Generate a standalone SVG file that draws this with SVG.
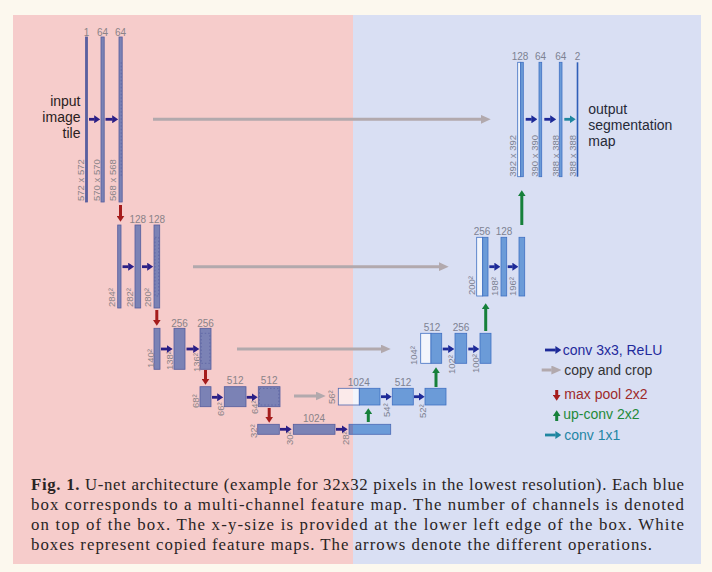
<svg xmlns="http://www.w3.org/2000/svg" width="712" height="572" viewBox="0 0 712 572">
<defs>
<style>
.bl{fill:#7b82b5;stroke:#565d9d;stroke-width:0.8}
.br{fill:#6b9bd8;stroke:#3f70c2;stroke-width:0.8}
.wl{fill:#fbeaea;stroke:#565d9d;stroke-width:0.8}
.wr{fill:#f2f5fc;stroke:#3f70c2;stroke-width:0.8}
.crop{fill:none;stroke:#4a5198;stroke-width:0.5;stroke-dasharray:1.5 2}
.ch{font-family:"Liberation Sans",Arial,sans-serif;font-size:10px;fill:#8a8388;text-anchor:middle}
.chr{fill:#7d8292}
.sz{font-family:"Liberation Sans",Arial,sans-serif;font-size:9.5px;fill:#8a8388}
.szr{fill:#7d8292}
.lbl{font-family:"Liberation Sans",Arial,sans-serif;font-size:14px}
.cap{font-family:"Liberation Serif","Times New Roman",serif;font-size:16.8px;fill:#2a2424}
.convl{stroke:#2b1f86;stroke-width:2.8;fill:none;marker-end:url(#mconvl)}
.convr{stroke:#1d2a98;stroke-width:2.8;fill:none;marker-end:url(#mconvr)}
.c11{stroke:#1f86a0;stroke-width:2.8;fill:none;marker-end:url(#mc11)}
.copy{stroke:#b2a9ad;stroke-width:3;fill:none;marker-end:url(#mcopy)}
.pool{stroke:#a51c1c;stroke-width:3;fill:none;marker-end:url(#mpool)}
.up{stroke:#16803a;stroke-width:3;fill:none;marker-end:url(#mup)}
</style>
<marker id="mconvl" markerUnits="userSpaceOnUse" markerWidth="6" markerHeight="8" viewBox="0 0 6 8" refX="0.3" refY="4" orient="auto"><path d="M0,0L6,4L0,8z" fill="#2b1f86"/></marker>
<marker id="mconvr" markerUnits="userSpaceOnUse" markerWidth="6" markerHeight="8" viewBox="0 0 6 8" refX="0.3" refY="4" orient="auto"><path d="M0,0L6,4L0,8z" fill="#1d2a98"/></marker>
<marker id="mc11" markerUnits="userSpaceOnUse" markerWidth="6" markerHeight="8" viewBox="0 0 6 8" refX="0.3" refY="4" orient="auto"><path d="M0,0L6,4L0,8z" fill="#1f86a0"/></marker>
<marker id="mcopy" markerUnits="userSpaceOnUse" markerWidth="10" markerHeight="9" viewBox="0 0 10 9" refX="0.3" refY="4.5" orient="auto"><path d="M0,0L10,4.5L0,9z" fill="#b2a9ad"/></marker>
<marker id="mpool" markerUnits="userSpaceOnUse" markerWidth="6" markerHeight="8" viewBox="0 0 6 8" refX="0.3" refY="4" orient="auto"><path d="M0,0L6,4L0,8z" fill="#a51c1c"/></marker>
<marker id="mup" markerUnits="userSpaceOnUse" markerWidth="6" markerHeight="8" viewBox="0 0 6 8" refX="0.3" refY="4" orient="auto"><path d="M0,0L6,4L0,8z" fill="#16803a"/></marker>
</defs>

<rect x="0" y="0" width="712" height="572" fill="#fcf8ee"/>
<rect x="13" y="15" width="340" height="549" fill="#f6cccb"/>
<rect x="353" y="15" width="348" height="549" fill="#d9dff3"/>

<g id="input-label" class="lbl" fill="#2a2020" text-anchor="end">
<text x="80.5" y="106">input</text>
<text x="80.5" y="122">image</text>
<text x="80.5" y="138">tile</text>
</g>
<g id="output-label" class="lbl" fill="#262a38">
<text x="588.3" y="114">output</text>
<text x="588.3" y="130">segmentation</text>
<text x="588.3" y="146">map</text>
</g>

<!-- Level 1 encoder -->
<g id="e1a"><rect class="bl" x="85.5" y="37" width="2" height="165" style="fill:#5a60a0"/><text class="ch" x="86.5" y="36">1</text><text class="sz" transform="translate(83.5,201) rotate(-90)">572 x 572</text></g>
<g id="e1b"><rect class="bl" x="101" y="37" width="3.2" height="165"/><text class="ch" x="102.6" y="36">64</text><text class="sz" transform="translate(100,201) rotate(-90)">570 x 570</text></g>
<g id="e1c"><rect class="bl" x="119" y="37" width="3.2" height="165"/><path class="crop" d="M121.2,62.3V176.7"/><text class="ch" x="120.6" y="36">64</text><text class="sz" transform="translate(116,201) rotate(-90)">568 x 568</text></g>

<!-- Level 2 encoder -->
<g id="e2a"><rect class="bl" x="117.7" y="225" width="3.3" height="83"/><text class="sz" transform="translate(115,307) rotate(-90)">284²</text></g>
<g id="e2b"><rect class="bl" x="135" y="225" width="5.7" height="83"/><text class="ch" x="137.8" y="222.5">128</text><text class="sz" transform="translate(132.5,307) rotate(-90)">282²</text></g>
<g id="e2c"><rect class="bl" x="154" y="225" width="5.7" height="83"/><rect class="crop" x="155" y="237.3" width="3.7" height="58.7"/><text class="ch" x="156.8" y="222.5">128</text><text class="sz" transform="translate(151,307) rotate(-90)">280²</text></g>

<!-- Level 3 encoder -->
<g id="e3a"><rect class="bl" x="154" y="328.3" width="6" height="41"/><text class="sz" transform="translate(154,368) rotate(-90)">140²</text></g>
<g id="e3b"><rect class="bl" x="174" y="328.3" width="11" height="41"/><text class="ch" x="179.5" y="326.5">256</text><text class="sz" transform="translate(172.7,370) rotate(-90)">138²</text></g>
<g id="e3c"><rect class="bl" x="200" y="328.3" width="11" height="41"/><rect class="crop" x="201.2" y="333.3" width="8.6" height="30"/><text class="ch" x="205.5" y="326.5">256</text><text class="sz" transform="translate(199.5,372) rotate(-90)">136²</text></g>

<!-- Level 4 encoder -->
<g id="e4a"><rect class="bl" x="200" y="386.7" width="11" height="20"/><text class="sz" transform="translate(198.5,408) rotate(-90)">68²</text></g>
<g id="e4b"><rect class="bl" x="224.3" y="386.7" width="21.7" height="20"/><text class="ch" x="235.2" y="384">512</text><text class="sz" transform="translate(223.5,416) rotate(-90)">66²</text></g>
<g id="e4c"><rect class="bl" x="258.3" y="386.7" width="21.7" height="20"/><rect class="crop" x="259.5" y="388.4" width="19.3" height="16.6"/><text class="ch" x="269.2" y="384">512</text><text class="sz" transform="translate(257.5,414) rotate(-90)">64²</text></g>

<!-- Level 5 bottleneck -->
<g id="b5a"><rect class="bl" x="257.7" y="424.3" width="21.6" height="10"/><text class="sz" transform="translate(256.5,438) rotate(-90)">32²</text></g>
<g id="b5b"><rect class="bl" x="293.3" y="424.3" width="41.7" height="10"/><text class="ch" x="314" y="421.8">1024</text><text class="sz" transform="translate(292.5,445) rotate(-90)">30²</text></g>
<g id="b5c"><rect x="349" y="424.3" width="4" height="10" fill="#7b82b5"/><rect x="353" y="424.3" width="37.7" height="10" fill="#6b9bd8"/><rect x="349" y="424.3" width="41.7" height="10" fill="none" stroke="#4a6ab4" stroke-width="0.8"/><text class="sz" transform="translate(349.3,445) rotate(-90)">28²</text></g>

<!-- Level 4 decoder -->
<g id="d4a"><rect x="338.3" y="388.3" width="14.7" height="16.7" fill="#fbeaea"/><rect x="353" y="388.3" width="6.3" height="16.7" fill="#f2f5fc"/><rect x="338.3" y="388.3" width="21" height="16.7" fill="none" stroke="#4f68b0" stroke-width="0.8"/><rect class="br" x="359.3" y="388.3" width="20.7" height="16.7"/><text class="ch chr" x="358.8" y="386">1024</text><text class="sz" transform="translate(335,404) rotate(-90)">56²</text></g>
<g id="d4b"><rect class="br" x="392.3" y="388.3" width="21" height="16.7"/><text class="ch chr" x="403" y="386">512</text><text class="sz szr" transform="translate(390,417) rotate(-90)">54²</text></g>
<g id="d4c"><rect class="br" x="425" y="388.3" width="21" height="16.7"/><text class="sz szr" transform="translate(426,418) rotate(-90)">52²</text></g>

<!-- Level 3 decoder -->
<g id="d3a"><rect class="wr" x="420.7" y="333.3" width="10.3" height="30"/><rect class="br" x="431" y="333.3" width="10.7" height="30"/><text class="ch chr" x="432" y="330.7">512</text><text class="sz szr" transform="translate(416.7,365) rotate(-90)">104²</text></g>
<g id="d3b"><rect class="br" x="455" y="333.3" width="11.7" height="30"/><text class="ch chr" x="461" y="330.7">256</text><text class="sz szr" transform="translate(455,374) rotate(-90)">102²</text></g>
<g id="d3c"><rect class="br" x="480" y="333.3" width="11" height="30"/><text class="sz szr" transform="translate(478.5,373) rotate(-90)">100²</text></g>

<!-- Level 2 decoder -->
<g id="d2a"><rect class="wr" x="476.7" y="237.3" width="6" height="58.7"/><rect class="br" x="482.7" y="237.3" width="5.3" height="58.7"/><text class="ch chr" x="482" y="235">256</text><text class="sz szr" transform="translate(474.5,295) rotate(-90)">200²</text></g>
<g id="d2b"><rect class="br" x="501" y="237.3" width="5.7" height="58.7"/><text class="ch chr" x="504" y="235">128</text><text class="sz szr" transform="translate(497.7,296) rotate(-90)">198²</text></g>
<g id="d2c"><rect class="br" x="519" y="237.3" width="5.7" height="58.7"/><text class="sz szr" transform="translate(516,296) rotate(-90)">196²</text></g>

<!-- Level 1 decoder -->
<g id="d1a"><rect class="wr" x="517.7" y="62.3" width="3" height="114.4"/><rect class="br" x="520.7" y="62.3" width="2.6" height="114.4"/><text class="ch chr" x="520" y="60">128</text><text class="sz szr" transform="translate(516,176.7) rotate(-90)">392 x 392</text></g>
<g id="d1b"><rect class="br" x="539" y="62.3" width="2.7" height="114.4"/><text class="ch chr" x="540.5" y="60">64</text><text class="sz szr" transform="translate(538,176.7) rotate(-90)">390 x 390</text></g>
<g id="d1c"><rect class="br" x="559.3" y="62.3" width="2.7" height="114.4"/><text class="ch chr" x="560.7" y="60">64</text><text class="sz szr" transform="translate(558.7,176.7) rotate(-90)">388 x 388</text></g>
<g id="d1d"><rect x="576.7" y="62.3" width="1.6" height="114.4" fill="#2f5fb8"/><text class="ch chr" x="577.5" y="60">2</text><text class="sz szr" transform="translate(576,176.7) rotate(-90)">388 x 388</text></g>

<g id="connectors">
<path class="convl" d="M89,119.3H94.5"/>
<path class="convl" d="M105.5,119.3H112.5"/>
<path class="convl" d="M122.5,266.7H128.5"/>
<path class="convl" d="M142,266.7H147.5"/>
<path class="convl" d="M161,349H167"/>
<path class="convl" d="M186.5,349H193.5"/>
<path class="convl" d="M212,397.3H217.5"/>
<path class="convl" d="M246.7,397.3H252"/>
<path class="convl" d="M280,429.3H286"/>
<path class="convl" d="M336,429.3H342"/>
<path class="convr" d="M381,396.7H386"/>
<path class="convr" d="M414,396.7H419"/>
<path class="convr" d="M442.7,349H448.5"/>
<path class="convr" d="M468.3,349H473.5"/>
<path class="convr" d="M489.3,266.7H494.7"/>
<path class="convr" d="M507.7,266.7H512.7"/>
<path class="convr" d="M525.7,119.3H531.7"/>
<path class="convr" d="M544.3,119.3H550.5"/>
<path class="c11" d="M564.3,119.3H570"/>
<path class="copy" d="M153,119.3H481"/>
<path class="copy" d="M193,266.7H439"/>
<path class="copy" d="M237,349H381"/>
<path class="copy" d="M294,396H316"/>
<path class="pool" d="M120.5,205V216"/>
<path class="pool" d="M156.8,310V320"/>
<path class="pool" d="M205.5,370V379"/>
<path class="pool" d="M269.2,408V417"/>
<path class="up" d="M368.3,422V414"/>
<path class="up" d="M436,387V373"/>
<path class="up" d="M485.7,331V309"/>
<path class="up" d="M521.8,225V196"/>
</g>

<g id="legend">
<path class="convr" d="M545,350H555.7"/>
<text class="lbl" x="562.7" y="354.5" fill="#1f2a9c">conv 3x3, ReLU</text>
<path class="copy" d="M541.7,370H551.7"/>
<text class="lbl" x="564.3" y="374.5" fill="#333333">copy and crop</text>
<path class="pool" d="M556.7,390V395"/>
<text class="lbl" x="564.3" y="398.5" fill="#9e2a2a">max pool 2x2</text>
<path class="up" d="M556.7,421V416"/>
<text class="lbl" x="563.3" y="418.5" fill="#1f8a3a">up-conv 2x2</text>
<path class="c11" d="M545,435H555.7"/>
<text class="lbl" x="564.3" y="439.5" fill="#1f86a5">conv 1x1</text>
</g>

<g id="caption" class="cap">
<text x="31" y="490" textLength="653" lengthAdjust="spacing"><tspan font-weight="bold">Fig. 1.</tspan> U-net architecture (example for 32x32 pixels in the lowest resolution). Each blue</text>
<text x="31" y="510" textLength="653" lengthAdjust="spacing">box corresponds to a multi-channel feature map. The number of channels is denoted</text>
<text x="31" y="530" textLength="653" lengthAdjust="spacing">on top of the box. The x-y-size is provided at the lower left edge of the box. White</text>
<text x="31" y="550" textLength="621" lengthAdjust="spacing">boxes represent copied feature maps. The arrows denote the different operations.</text>
</g>
</svg>
